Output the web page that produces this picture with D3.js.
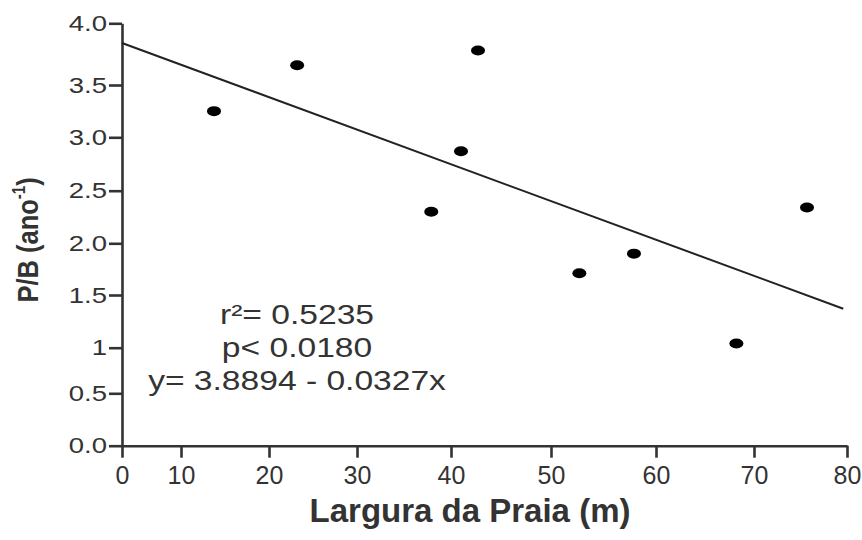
<!DOCTYPE html>
<html>
<head>
<meta charset="utf-8">
<script src="https://cdn.jsdelivr.net/npm/d3@7"></script>
<style>
  body { margin: 0; background: #fff; }
  text { font-family: "Liberation Sans", Arial, sans-serif; fill: #333; }
</style>
</head>
<body>
<script>
// valores
var largura = [13.75, 23.2, 37.9, 41.0, 42.7, 52.7, 57.9, 68.2, 75.7];
var pb = [3.25, 3.66, 2.30, 2.87, 3.78, 1.71, 1.90, 1.04, 2.34];

var xTicks = [0, 10, 20, 30, 40, 50, 60, 70, 80];
var yTicks = [0, 0.5, 1, 1.5, 2, 2.5, 3, 3.5, 4];
var yTickLabels = ["0.0", "0.5", "1", "1.5", "2.0", "2.5", "3.0", "3.5", "4.0"];

// reta de regressao (extremos)
var fitX = [0, 79.6];
var fitY = [3.84, 1.37];

var stats = ["r\u00b2= 0.5235", "p< 0.0180", "y= 3.8894 - 0.0327x"];

var svg = d3.select("body").append("svg")
  .attr("width", 862)
  .attr("height", 540);

// the original figure is a bit warped, so the scales are piecewise
var x = d3.scaleLinear()
  .domain(xTicks)
  .range([122, 181, 269, 357, 451, 551, 656, 754, 847]);

var y = d3.scaleLinear()
  .domain(yTicks)
  .range([445.7, 393.3, 347.7, 295, 243.3, 190.7, 137.3, 85, 23.3]);

var xAxis = svg.append("g")
  .attr("transform", "translate(0," + y(0) + ")")
  .call(d3.axisBottom(x).tickValues(xTicks).tickSize(12).tickSizeOuter(0));

xAxis.selectAll("text")
  .attr("y", 38)
  .attr("dy", 0)
  .attr("font-size", 25);

var yAxis = svg.append("g")
  .attr("transform", "translate(" + x(0) + ",0)")
  .call(d3.axisLeft(y).tickValues(yTicks).tickSize(13).tickSizeOuter(0)
    .tickFormat(function(d, i){ return yTickLabels[i]; }));

yAxis.selectAll("text")
  .attr("x", -12)
  .attr("font-size", 22)
  .attr("transform", "scale(1.25,1)");

svg.selectAll(".domain, .tick line")
  .attr("stroke", "#333")
  .attr("stroke-width", 2.6);
svg.selectAll(".tick text").style("fill", "#333");

// reta
svg.append("line")
  .attr("x1", x(fitX[0])).attr("y1", y(fitY[0]))
  .attr("x2", x(fitX[1])).attr("y2", y(fitY[1]))
  .attr("stroke", "#222")
  .attr("stroke-width", 2);

// pontos
svg.selectAll("ellipse")
  .data(largura)
  .enter()
  .append("ellipse")
  .attr("cx", function(d){ return x(d); })
  .attr("cy", function(d, i){ return y(pb[i]); })
  .attr("rx", 7)
  .attr("ry", 5)
  .style("fill", "#000");

// estatisticas
svg.selectAll("text.stat")
  .data(stats)
  .enter()
  .append("text")
  .attr("class", "stat")
  .attr("text-anchor", "middle")
  .attr("font-size", 28)
  .attr("transform", function(d, i){
    return "translate(297," + (324 + i * 33) + ") scale(1.2,1)";
  })
  .text(function(d){ return d; });

// titulos
svg.append("text")
  .attr("text-anchor", "middle")
  .attr("font-size", 33)
  .attr("font-weight", "bold")
  .attr("x", 470)
  .attr("y", 522)
  .text("Largura da Praia (m)");

var yTitle = svg.append("text")
  .attr("text-anchor", "middle")
  .attr("font-size", 25.5)
  .attr("font-weight", "bold")
  .attr("transform", "translate(38,240) scale(1.17,1) rotate(-90)");
yTitle.append("tspan").text("P/B (ano");
yTitle.append("tspan").attr("font-size", 15).attr("dy", -11).text("-1");
yTitle.append("tspan").attr("dy", 11).text(")");
</script>
</body>
</html>
